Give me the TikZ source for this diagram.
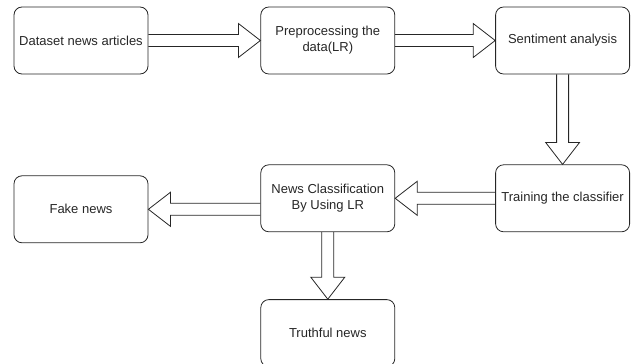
\documentclass[tikz,border=0pt]{standalone}
\usepackage{fontspec}
\setmainfont{Liberation Sans}
\usetikzlibrary{positioning, calc}

\begin{document}
\begin{tikzpicture}[x=1pt, y=1pt,
    box/.style={draw=black!85, line width=0.8pt, rounded corners=8pt, minimum width=134pt,
                minimum height=67pt, align=center, inner sep=1pt,
                text=black!85, font=\fontsize{13}{16}\selectfont},
    fat/.style={draw=black!85, line width=0.8pt, line join=miter,
      to path={let \p1=($(\tikztotarget)-(\tikztostart)$),
               \n1={veclen(\x1,\y1)-22}, \n2={atan2(\y1,\x1)} in
        ($(\tikztostart)+(\n2+90:6pt)$) -- ++(\n2:\n1) -- ++(\n2+90:11pt)
        -- (\tikztotarget)
        -- ($(\tikztostart)+(\n2:\n1)+(\n2-90:17pt)$) -- ++(\n2+90:11pt)
        -- ($(\tikztostart)+(\n2-90:6pt)$) \tikztonodes}},
  ]
    \useasboundingbox (0,0) rectangle (633,-364);

    \node[box] (data)  at (81,-40.5)      {Dataset news articles};
    \node[box] (prep)  [right=112 of data] {Preprocessing the\\data(LR)};
    \node[box] (senti) [right=100 of prep] {Sentiment analysis};
    \node[box] (train) [below=90 of senti] {Training the classifier};
    \node[box] (clf)   [left=100 of train] {News Classification\\By Using LR};
    \node[box] (fake)  [left=112 of clf, yshift=-11] {Fake news};
    \node[box] (truth) [below=67 of clf]   {Truthful news};

    % block arrows between the steps
    \draw[fat] (data.east) to (prep.west);
    \draw[fat] (prep.east) to (senti.west);
    \draw[fat] (senti.south) to (train.north);
    \draw[fat] (train.west) to (clf.east);
    \draw[fat] (fake.east -| clf.west) to (fake.east);
    \draw[fat] (clf.south) to (truth.north);
\end{tikzpicture}
\end{document}
